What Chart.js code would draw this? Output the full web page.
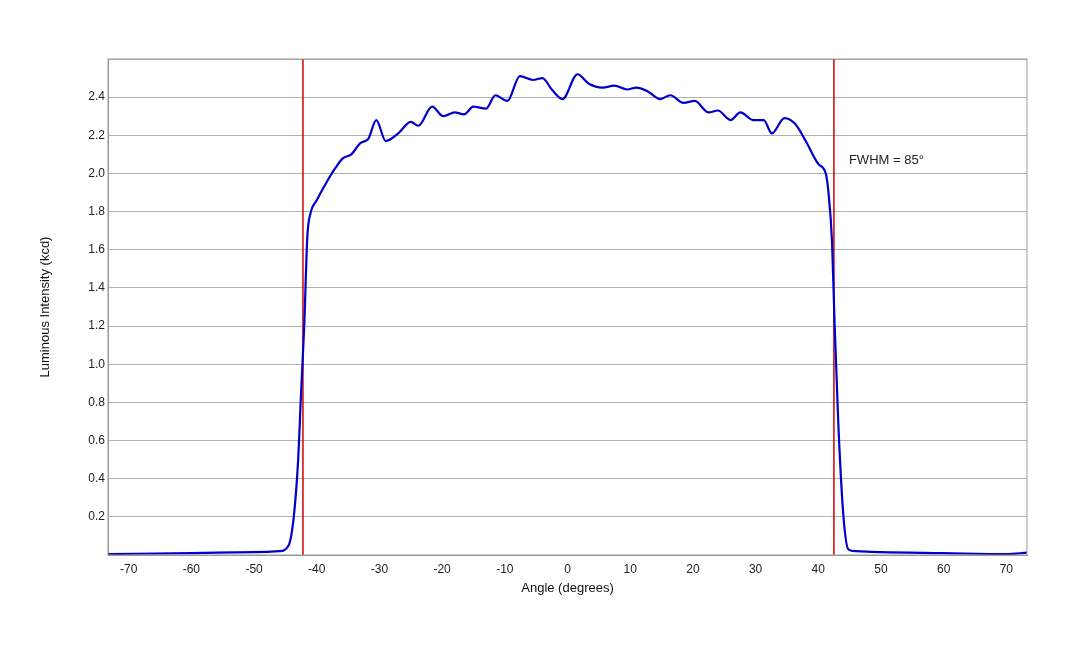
<!DOCTYPE html>
<html>
<head>
<meta charset="utf-8">
<script src="https://cdn.jsdelivr.net/npm/chart.js@4"></script>
<style>
  html, body { margin: 0; padding: 0; background: #fff; }
  #wrap { width: 1080px; height: 648px; }
</style>
</head>
<body>
<div id="wrap"><canvas id="grafico" width="1080" height="648"></canvas></div>
<script>
const angulos = [-73.3, -60, -50, -46, -44.5, -43.7, -43, -42.5, -42, -41.5, -41, -40, -38.5, -37, -35.8, -34.5, -33, -31.8, -30.5, -29, -27, -25, -23.8, -21.6, -19.8, -18, -16.5, -15, -13, -11.5, -9.6, -7.6, -5.5, -4, -2.5, -0.8, 1.6, 3.4, 5.6, 7.5, 9.5, 11, 12.8, 14.8, 16.4, 18.5, 20.3, 22.5, 24, 26, 27.6, 29.6, 31.3, 32.6, 34.6, 36.3, 38, 40, 41.2, 41.6, 42.2, 42.6, 43.2, 44, 44.8, 46, 50, 60, 70, 73.3];
const intensidad = [0.005, 0.01, 0.015, 0.02, 0.05, 0.19, 0.48, 0.85, 1.2, 1.67, 1.79, 1.86, 1.95, 2.03, 2.08, 2.1, 2.16, 2.18, 2.28, 2.17, 2.21, 2.27, 2.25, 2.35, 2.3, 2.32, 2.31, 2.35, 2.34, 2.41, 2.38, 2.51, 2.49, 2.5, 2.44, 2.39, 2.52, 2.47, 2.45, 2.46, 2.44, 2.45, 2.43, 2.39, 2.41, 2.37, 2.38, 2.32, 2.33, 2.28, 2.32, 2.28, 2.28, 2.21, 2.29, 2.26, 2.17, 2.05, 2.0, 1.91, 1.64, 1.22, 0.69, 0.21, 0.03, 0.02, 0.015, 0.01, 0.005, 0.012];
const limitesFWHM = [-42.2, 42.5];
const ticksX = [-70, -60, -50, -40, -30, -20, -10, 0, 10, 20, 30, 40, 50, 60, 70];
const textoFWHM = "FWHM = 85°";

const puntos = angulos.map((a, i) => ({ x: a, y: intensidad[i] }));
const lineaRoja = (x) => ({
  data: [{ x: x, y: 0 }, { x: x, y: 2.6 }],
  borderColor: "#d00000",
  borderWidth: 1.5,
  pointRadius: 0,
  tension: 0,
});

const etiqueta = {
  id: "etiqueta",
  afterDatasetsDraw(chart) {
    const { ctx, scales } = chart;
    ctx.save();
    ctx.font = "13px 'Liberation Sans', Arial, sans-serif";
    ctx.fillStyle = "#222";
    ctx.textBaseline = "middle";
    ctx.fillText(textoFWHM, scales.x.getPixelForValue(limitesFWHM[1]) + 15, scales.y.getPixelForValue(2.07));
    ctx.restore();
  },
};

new Chart(document.getElementById("grafico").getContext("2d"), {
  type: "line",
  data: {
    datasets: [
      {
        data: puntos,
        borderColor: "#0000cc",
        borderWidth: 2.2,
        pointRadius: 0,
        cubicInterpolationMode: "monotone",
      },
      lineaRoja(limitesFWHM[0]),
      lineaRoja(limitesFWHM[1]),
    ],
  },
  options: {
    responsive: false,
    animation: false,
    layout: { padding: { top: 59, right: 53, bottom: 48, left: 34 } },
    plugins: { legend: { display: false }, tooltip: { enabled: false } },
    scales: {
      x: {
        type: "linear",
        min: -73.3,
        max: 73.3,
        afterBuildTicks: (s) => { s.ticks = ticksX.map((v) => ({ value: v })); },
        grid: { display: false, drawTicks: true, tickLength: 5 },
        border: { color: "#999" },
        ticks: { padding: 2, color: "#222", font: { size: 12, family: "'Liberation Sans', Arial" } },
        title: { display: true, text: "Angle (degrees)", color: "#111", padding: { top: 2 }, font: { size: 13, family: "'Liberation Sans', Arial" } },
      },
      y: {
        min: 0,
        max: 2.6,
        afterFit: (s) => { s.width = 74; },
        ticks: {
          stepSize: 0.2,
          color: "#222",
          font: { size: 12, family: "'Liberation Sans', Arial" },
          callback: (v) => (v <= 0.001 || v >= 2.59 ? "" : v.toFixed(1)),
        },
        grid: { color: "#b0b0b0", drawTicks: false, lineWidth: 1 },
        border: { color: "#999" },
        title: { display: true, text: "Luminous Intensity (kcd)", color: "#111", font: { size: 13, family: "'Liberation Sans', Arial" } },
      },
    },
  },
  plugins: [etiqueta, {
    id: "marco",
    afterDraw(chart) {
      const a = chart.chartArea, c = chart.ctx;
      c.save(); c.strokeStyle = "#999"; c.lineWidth = 1;
      c.strokeRect(a.left, a.top, a.right - a.left, a.bottom - a.top);
      c.restore();
    },
  }],
});
</script>
</body>
</html>
